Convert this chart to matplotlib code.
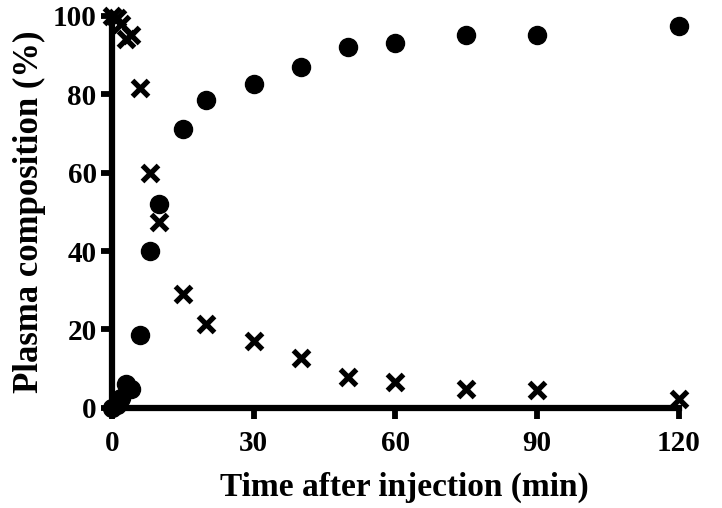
import matplotlib

matplotlib.use("Agg")
import matplotlib.pyplot as plt

# time points (min) and plasma composition (%)
time_min = [0, 1, 2, 3, 4, 6, 8, 10, 15, 20, 30, 40, 50, 60, 75, 90, 120]
circle_pct = [0, 0.8, 2.5, 6.2, 4.8, 18.5, 40, 52, 71, 78.5, 82.5, 87, 92, 93, 95, 95.2, 97.5]
cross_pct = [100, 99.5, 98, 94, 95, 81.5, 60, 47.5, 29, 21.4, 17, 12.7, 8, 6.6, 4.8, 4.6, 2.3]

xticks = [0, 30, 60, 90, 120]
yticks = [0, 20, 40, 60, 80, 100]

plt.rcParams["font.family"] = ["Liberation Serif", "DejaVu Serif"]
plt.rcParams["font.weight"] = "bold"

fig = plt.figure(figsize=(7.22, 5.08), dpi=100)
ax = fig.add_axes([0.155, 0.197, 0.785, 0.772])

ax.plot(time_min, circle_pct, "o", color="black", markersize=13, clip_on=False, zorder=5)
ax.plot(time_min, cross_pct, "x", color="black", markersize=12, mew=3.8, clip_on=False, zorder=5)

ax.set_xlim(0, 120)
ax.set_ylim(0, 100)
ax.set_xticks(xticks)
ax.set_yticks(yticks)

for side in ("top", "right"):
    ax.spines[side].set_visible(False)
for side in ("left", "bottom"):
    ax.spines[side].set_linewidth(4.5)

ax.tick_params(axis="both", direction="out", length=8, width=4.2, labelsize=21)
ax.tick_params(axis="x", pad=8)
ax.tick_params(axis="y", pad=3)
for lbl in ax.get_xticklabels() + ax.get_yticklabels():
    lbl.set_fontweight("bold")

ax.set_xlabel("Time after injection (min)", fontsize=24, fontweight="bold")
ax.xaxis.set_label_coords(0.516, -0.162)
ax.set_ylabel("Plasma composition (%)", fontsize=25, fontweight="bold", labelpad=5)

fig.savefig("out.png", dpi=100, facecolor="white")
